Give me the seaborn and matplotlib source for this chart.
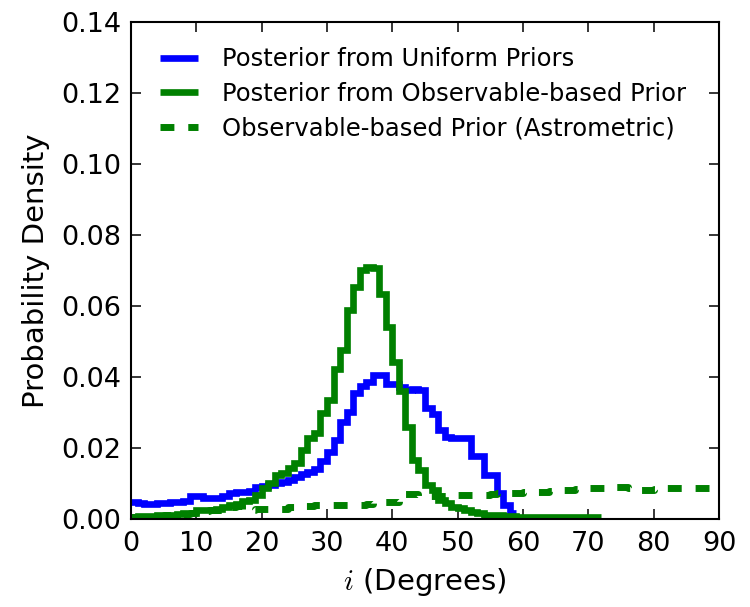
import numpy as np
import matplotlib
matplotlib.use("Agg")
import matplotlib.pyplot as plt
import seaborn as sns

# 1-degree inclination bins
edges = np.arange(0, 91, 1)

# Posterior density, uniform priors (bins 0..58)
uniform_post = [
    0.0048, 0.0046, 0.0043, 0.0043, 0.0045, 0.0046, 0.0047, 0.0048, 0.0050, 0.0064,
    0.0064, 0.0058, 0.0058, 0.0060, 0.0065, 0.0074, 0.0076, 0.0076, 0.0078, 0.0090,
    0.0093, 0.0096, 0.0100, 0.0104, 0.0110, 0.0118, 0.0128, 0.0132, 0.0140, 0.0163,
    0.0188, 0.0222, 0.0273, 0.0301, 0.0355, 0.0375, 0.0385, 0.0406, 0.0406, 0.0380,
    0.0380, 0.0372, 0.0362, 0.0365, 0.0362, 0.0313, 0.0296, 0.0250, 0.0231, 0.0228,
    0.0228, 0.0228, 0.0177, 0.0177, 0.0124, 0.0124, 0.0073, 0.0039, 0.0017,
]

# Posterior density, observable-based prior (bins 0..71)
observable_post = [
    0.0006, 0.0007, 0.0008, 0.0009, 0.0010, 0.0011, 0.0012, 0.0014, 0.0016, 0.0018,
    0.0024, 0.0025, 0.0026, 0.0028, 0.0034, 0.0040, 0.0043, 0.0050, 0.0054, 0.0068,
    0.0086, 0.0100, 0.0124, 0.0130, 0.0144, 0.0158, 0.0194, 0.0228, 0.0242, 0.0299,
    0.0335, 0.0423, 0.0476, 0.0589, 0.0654, 0.0702, 0.0710, 0.0708, 0.0635, 0.0540,
    0.0442, 0.0360, 0.0260, 0.0166, 0.0138, 0.0096, 0.0082, 0.0054, 0.0045, 0.0034,
    0.0030, 0.0025, 0.0019, 0.0016, 0.0012, 0.0011, 0.0010, 0.0008, 0.0007, 0.0006,
    0.0005, 0.0005, 0.0005, 0.0005, 0.0005, 0.0005, 0.0005, 0.0005, 0.0005, 0.0005,
    0.0005, 0.0005,
]

# Observable-based (astrometric) prior density (bins 0..89)
astrometric_prior = [
    0.0005, 0.0006, 0.0007, 0.0008, 0.0009, 0.0010, 0.0011, 0.0013, 0.0015, 0.0017,
    0.0022, 0.0023, 0.0024, 0.0026, 0.0030, 0.0034, 0.0036, 0.0025, 0.0025, 0.0027,
    0.0028, 0.0029, 0.0029, 0.0029, 0.0033, 0.0036, 0.0037, 0.0037, 0.0038, 0.0039,
    0.0039, 0.0039, 0.0039, 0.0039, 0.0039, 0.0040, 0.0042, 0.0045, 0.0048, 0.0048,
    0.0048, 0.0068, 0.0070, 0.0069, 0.0066, 0.0066, 0.0066, 0.0066, 0.0066, 0.0066,
    0.0067, 0.0068, 0.0068, 0.0068, 0.0068, 0.0070, 0.0072, 0.0073, 0.0073, 0.0074,
    0.0075, 0.0076, 0.0076, 0.0077, 0.0078, 0.0080, 0.0081, 0.0082, 0.0084, 0.0085,
    0.0086, 0.0087, 0.0088, 0.0090, 0.0090, 0.0090, 0.0088, 0.0084, 0.0082, 0.0082,
    0.0084, 0.0085, 0.0086, 0.0087, 0.0087, 0.0087, 0.0088, 0.0088, 0.0088, 0.0088,
]

labels = [
    "Posterior from Uniform Priors",
    "Posterior from Observable-based Prior",
    "Observable-based Prior (Astrometric)",
]

sns.set_style("ticks", {"xtick.direction": "in", "ytick.direction": "in"})
plt.rcParams["font.family"] = ["DejaVu Sans"]
plt.rcParams["mathtext.fontset"] = "cm"
plt.rcParams["lines.scale_dashes"] = False
plt.rcParams["lines.solid_joinstyle"] = "miter"
plt.rcParams["lines.solid_capstyle"] = "butt"
for key in ("text.color", "axes.labelcolor", "xtick.color", "ytick.color",
            "axes.edgecolor"):
    plt.rcParams[key] = "black"

fig = plt.figure(figsize=(7.5, 6.07), dpi=100)
ax = fig.add_axes([0.1747, 0.145, 0.784, 0.8188])


def step_hist(values, **kw):
    n = len(values)
    centers = edges[:n] + 0.5
    sns.histplot(x=centers, weights=np.asarray(values),
                 bins=[float(e) for e in edges[: n + 1]],
                 element="step", fill=False, stat="count", ax=ax, **kw)


step_hist(uniform_post, color="#0000ff", linewidth=4.8, label=labels[0])
step_hist(observable_post, color="#008000", linewidth=4.8, label=labels[1])
step_hist(astrometric_prior, color="#008000", linewidth=5.0,
          linestyle=(0, (10, 10)), label=labels[2])

ax.set_xlim(0, 90)
ax.set_ylim(0, 0.14)
ax.set_xticks(np.arange(0, 91, 10))
ax.set_yticks(np.arange(0, 0.141, 0.02))
ax.set_yticklabels([f"{v:.2f}" for v in np.arange(0, 0.141, 0.02)])
ax.tick_params(axis="both", which="both", direction="in", top=True, right=True,
               length=7, width=1.1, labelsize=19.5, pad=7)
ax.tick_params(axis="x", pad=9)
for sp in ax.spines.values():
    sp.set_visible(True)
    sp.set_linewidth(1.5)
    sp.set_color("black")

ax.set_xlabel("$i$ (Degrees)", fontsize=21, labelpad=6)
ax.set_ylabel("Probability Density", fontsize=21, labelpad=8)

handles = ax.get_lines()[:3]
ax.legend(handles, labels, loc="upper left", bbox_to_anchor=(0.049, 0.949),
          frameon=False, fontsize=17.5, handlelength=1.55, handletextpad=1.0,
          borderpad=0, borderaxespad=0, labelspacing=0.43)

fig.savefig("out.png", dpi=100)
